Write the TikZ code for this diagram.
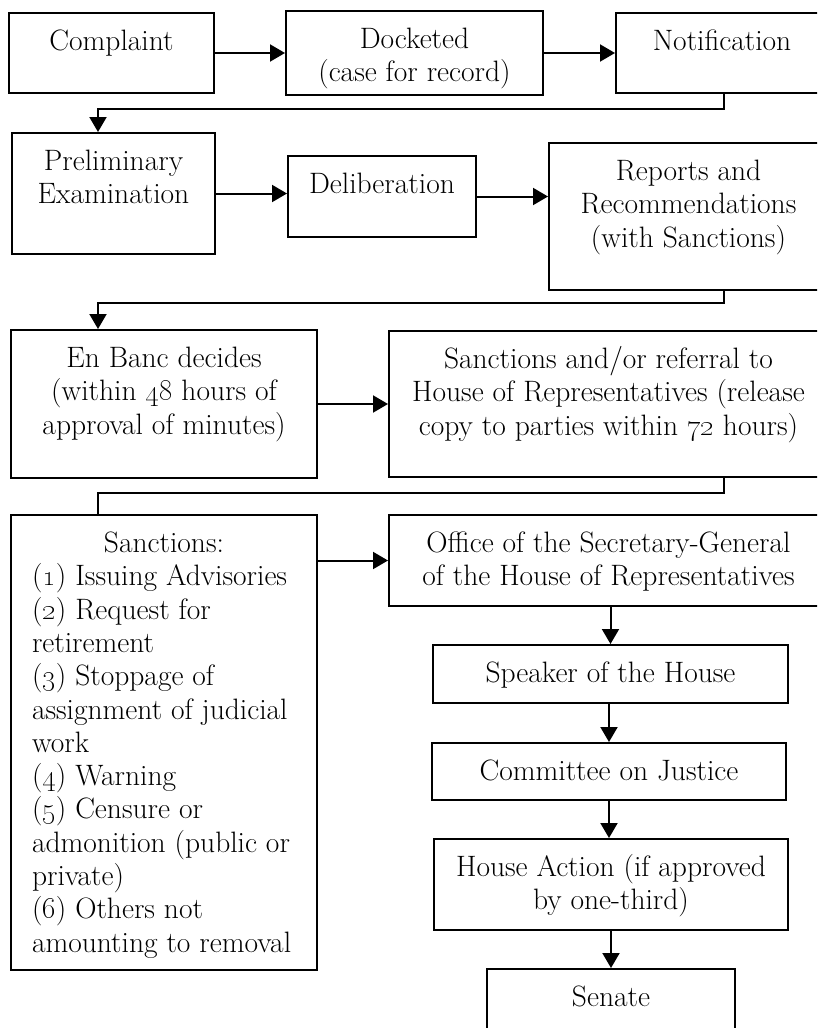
\documentclass[tikz,border=0pt]{standalone}
\usepackage{tikz}
\usetikzlibrary{arrows.meta}

\newcommand{\boxtxt}[3]{\parbox[c][#2][t]{#1}{\centering\rule{0pt}{37.5pt}#3}}

\begin{document}
\begin{tikzpicture}[x=1pt,y=-1pt,
  box/.style={draw,line width=2pt,inner sep=0pt,anchor=north west,font=\fontsize{29.5}{33.3}\selectfont},
  link/.style={line width=2pt,-{Triangle[length=15pt,width=17pt]}},
  wire/.style={line width=2pt}]
  \clip (0,0) rectangle (817,1028);

  \node[box] (cmpl)    at (8,12)    {\boxtxt{205pt}{80pt}{Complaint}};
  \node[box] (dock)    at (285,10)  {\boxtxt{257pt}{84pt}{Docketed\\(case for record)}};
  \node[box] (notif)   at (615,12)  {\boxtxt{212pt}{80pt}{Notification}};
  \node[box] (prelim)  at (11,132)  {\boxtxt{203pt}{121pt}{Preliminary\\Examination}};
  \node[box] (delib)   at (287,155) {\boxtxt{188pt}{81pt}{Deliberation}};
  \node[box] (report)  at (548,142) {\boxtxt{279pt}{147pt}{Reports and\\Recommendations\\(with Sanctions)}};
  \node[box] (banc)    at (10,329)  {\boxtxt{306pt}{148pt}{En Banc decides\\(within \oldstylenums{48} hours of\\approval of minutes)}};
  \node[box] (refer)   at (388,330) {\boxtxt{439pt}{146pt}{Sanctions and/or referral to\\House of Representatives (release\\copy to parties within \oldstylenums{72} hours)}};
  \node[box] (sanct)   at (10,514)  {\boxtxt{306pt}{455pt}{Sanctions:\par\raggedright\leftskip=21pt
    (\oldstylenums{1}) Issuing Advisories\\
    (\oldstylenums{2}) Request for\\
    retirement\\
    (\oldstylenums{3}) Stoppage of\\
    assignment of judicial\\
    work\\
    (\oldstylenums{4}) Warning\\
    (\oldstylenums{5}) Censure or\\
    admonition (public or\\
    private)\\
    (\oldstylenums{6}) Others not\\
    amounting to removal}};
  \node[box] (office)  at (388,514) {\boxtxt{439pt}{91pt}{Office of the Secretary-General\\of the House of Representatives}};
  \node[box] (speaker) at (432,644) {\boxtxt{355pt}{58pt}{Speaker of the House}};
  \node[box] (cmte)    at (431,742) {\boxtxt{354pt}{57pt}{Committee on Justice}};
  \node[box] (action)  at (433,838) {\boxtxt{354pt}{91pt}{House Action (if approved\\by one-third)}};
  \node[box] (senate)  at (486,968) {\boxtxt{248pt}{80pt}{Senate}};

  \coordinate (r1) at (724,109);
  \coordinate (l1) at (98,109);
  \coordinate (r2) at (724,303);
  \coordinate (l2) at (98,303);
  \coordinate (r3) at (724,493);
  \coordinate (l3) at (98,493);

  \path[link]
    (cmpl)   edge (dock)
    (dock)   edge (notif)
    (prelim.east) edge (prelim.east -| delib.west)
    (delib.east)  edge (delib.east -| report.west)
    (banc)   edge (refer)
    (office.west -| sanct.east) edge (office.west)
    (speaker.north |- office.south) edge (speaker.north)
    (cmte.north |- speaker.south)   edge (cmte.north)
    (cmte.south)   edge (cmte.south |- action.north)
    (senate.north |- action.south)  edge (senate.north)
  ;
  \draw[link] (notif.south -| r1) -- (r1) -- (l1) -- (prelim.north -| l1);
  \draw[link] (report.south -| r2) -- (r2) -- (l2) -- (banc.north -| l2);
  \draw[wire] (refer.south -| r3) -- (r3) -- (l3) -- (sanct.north -| l3);
\end{tikzpicture}
\end{document}
